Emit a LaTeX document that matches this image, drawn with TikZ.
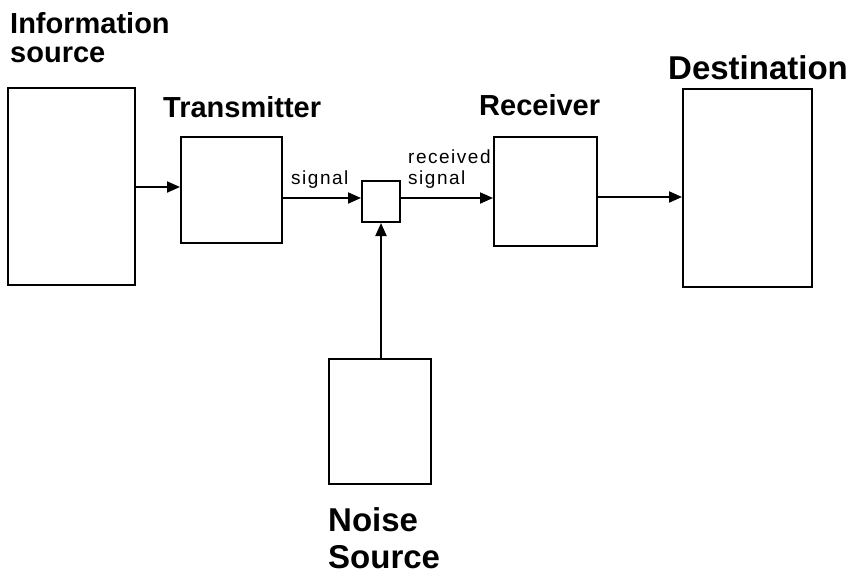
\documentclass[tikz,border=0pt]{standalone}
\usepackage{fontspec}
\setmainfont{Liberation Sans}
\newfontfamily\smallfnt[LetterSpace=8]{Liberation Sans}
\usetikzlibrary{arrows.meta}
\begin{document}
\begin{tikzpicture}[x=1pt,y=-1pt,
  blk/.style={draw=black,line width=2pt,inner sep=0pt,fill=white},
  conn/.style={line width=2pt,-{Triangle[length=13pt,width=11pt]}},
  biglbl/.style={inner sep=0pt,anchor=base west,font=\fontsize{29}{29}\selectfont\bfseries},
  hugelbl/.style={inner sep=0pt,anchor=base west,font=\fontsize{33}{33}\selectfont\bfseries},
  smalllbl/.style={inner sep=0pt,anchor=base west,font=\smallfnt\fontsize{19}{19}\selectfont}]
\useasboundingbox[fill=white] (0,0) rectangle (850,576);
% boxes
\node[blk,minimum width=127pt,minimum height=197pt] (info) at (71.5,186.5) {};
\node[blk,minimum width=101pt,minimum height=106pt] (trans) at (231.5,190) {};
\node[blk,minimum width=38pt,minimum height=41pt] (mix) at (381,201.5) {};
\node[blk,minimum width=103pt,minimum height=109pt] (recv) at (545.5,191.5) {};
\node[blk,minimum width=129pt,minimum height=198pt] (dest) at (747.5,188) {};
\node[blk,minimum width=102pt,minimum height=125pt] (noise) at (380,421.5) {};
% labels
\node[biglbl] (l1) at (10,33) {Information};
\node[biglbl] (l2) at (10,62) {source};
\node[biglbl] (l3) at (163,117) {Transmitter};
\node[biglbl] (l4) at (479,115) {Receiver};
\node[hugelbl] (l5) at (668,79) {Destination};
\node[hugelbl] (l6) at (328,531) {Noise};
\node[hugelbl] (l7) at (328,568) {Source};
\node[smalllbl] (s1) at (291,184) {signal};
\node[smalllbl] (s2) at (408,163) {received};
\node[smalllbl] (s3) at (408,184) {signal};
% connectors
\draw[conn] (info.east |- 0,187) -- (trans.west |- 0,187);
\draw[conn] (trans.east |- 0,198) -- (mix.west |- 0,198);
\draw[conn] (mix.east |- 0,198) -- (recv.west |- 0,198);
\draw[conn] (recv.east |- 0,197) -- (dest.west |- 0,197);
\draw[conn] (noise.north -| 381,0) -- (mix.south -| 381,0);
\end{tikzpicture}
\end{document}
